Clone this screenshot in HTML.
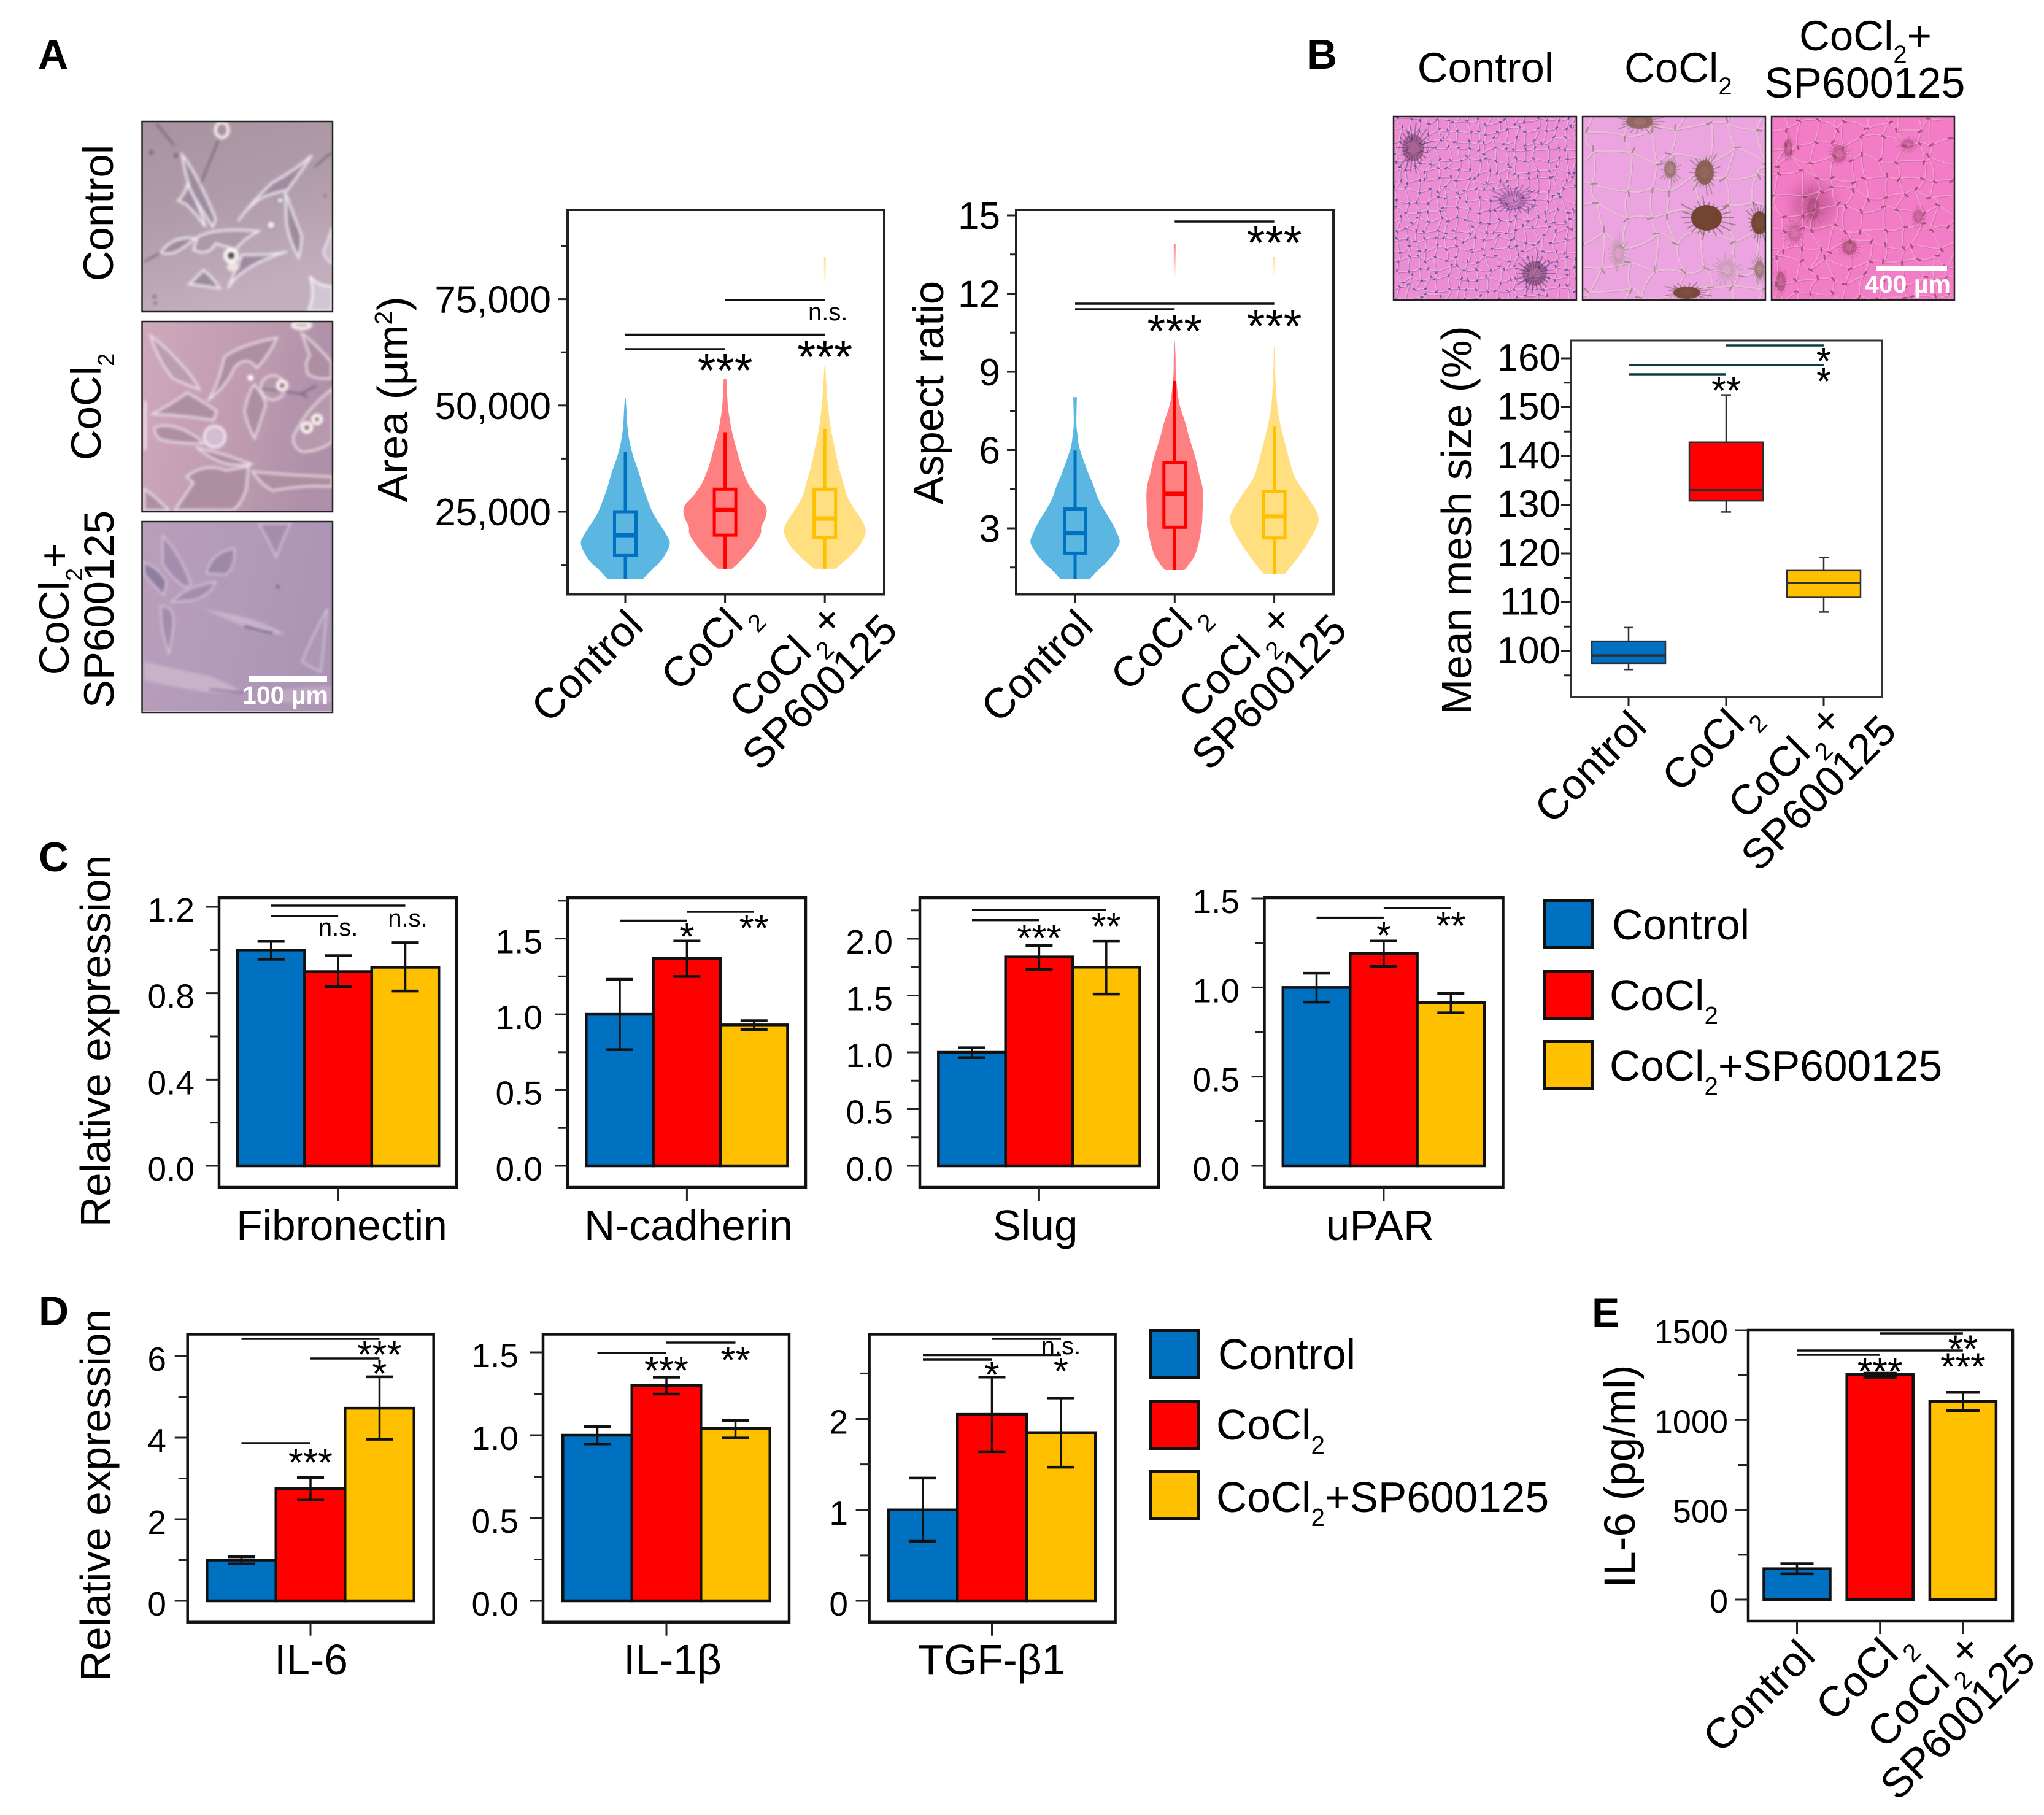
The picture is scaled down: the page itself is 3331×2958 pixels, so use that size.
<!DOCTYPE html>
<html lang="en">
<head>
<meta charset="utf-8">
<title>CoCl2 and SP600125 multi-panel figure</title>
<style>
html,body{margin:0;padding:0;background:#fff;}
svg{display:block;font-family:"Liberation Sans",Arial,sans-serif;}
</style>
</head>
<body>
<svg id="figure" xmlns="http://www.w3.org/2000/svg" width="3331" height="2958" viewBox="0 0 3331 2958">
<defs>
  <linearGradient id="photoA1" x1="0" y1="0" x2="0.3" y2="1"><stop offset="0" stop-color="#A8929F"/><stop offset="0.5" stop-color="#B09CA9"/><stop offset="1" stop-color="#C2AEBC"/></linearGradient>
  <linearGradient id="photoA2" x1="0" y1="0" x2="1" y2="0.2"><stop offset="0" stop-color="#CFA8BB"/><stop offset="0.6" stop-color="#BF9BB0"/><stop offset="1" stop-color="#AE90A8"/></linearGradient>
  <linearGradient id="photoA3" x1="0" y1="0" x2="1" y2="0.2"><stop offset="0" stop-color="#BA9FBC"/><stop offset="0.6" stop-color="#B199B8"/><stop offset="1" stop-color="#AB94B4"/></linearGradient>
  <linearGradient id="fadeRed" x1="0" y1="0" x2="0" y2="1"><stop offset="0" stop-color="#FF8080"/><stop offset="1" stop-color="#FF8080" stop-opacity="0"/></linearGradient>
  <linearGradient id="fadeYellow" x1="0" y1="0" x2="0" y2="1"><stop offset="0" stop-color="#FFDF80"/><stop offset="1" stop-color="#FFDF80" stop-opacity="0"/></linearGradient>
  <clipPath id="clipA1"><rect x="20" y="25" width="930" height="927"/></clipPath>
  <clipPath id="clipA2"><rect x="20" y="15" width="930" height="925"/></clipPath>
  <clipPath id="clipA3"><rect x="20" y="15" width="930" height="925"/></clipPath>
  <clipPath id="clipB1"><rect x="2271" y="190" width="298" height="299"/></clipPath>
  <clipPath id="clipB2"><rect x="2579" y="190" width="298" height="299"/></clipPath>
  <clipPath id="clipB3"><rect x="2887" y="190" width="298" height="299"/></clipPath>
  <filter id="cellBlur" x="-10%" y="-10%" width="120%" height="120%"><feGaussianBlur stdDeviation="7"/></filter>
  <filter id="softBig" x="-50%" y="-50%" width="200%" height="200%"><feGaussianBlur stdDeviation="12"/></filter>
</defs>

<!-- Panel letters -->
<text x="62" y="112" font-size="68" font-weight="bold">A</text>
<text x="2130" y="112" font-size="68" font-weight="bold">B</text>
<text x="63" y="1420" font-size="68" font-weight="bold">C</text>
<text x="63" y="2160" font-size="68" font-weight="bold">D</text>
<text x="2594" y="2163" font-size="68" font-weight="bold">E</text>

<!-- Panel A micrographs (local units are one third of a pixel) -->
<g transform="translate(225,190) scale(0.3333)">
  <g clip-path="url(#clipA1)">
    <rect x="20" y="25" width="930" height="927" fill="url(#photoA1)"/>
    <g filter="url(#cellBlur)">
      <g fill="#9E8B9E" stroke="#EFE9F1" stroke-width="10">
        <path d="M215,185 Q290,280 380,500 L365,540 Q320,470 260,370 Q225,270 215,185Z"/>
        <path d="M240,330 Q300,430 330,540 Q280,470 235,430 L195,410 Q230,380 240,330Z"/>
        <path d="M290,590 Q370,540 590,560 Q500,610 480,650 Q440,640 380,620 Q340,690 270,650 Q280,620 290,590Z" fill="#AC99A9"/>
        <path d="M110,665 Q170,580 280,595 Q230,640 180,665 Q140,675 110,665Z"/>
        <path d="M490,510 Q570,400 660,320 Q740,280 850,190 Q790,280 730,360 Q650,375 600,400 Q530,450 490,510Z"/>
        <path d="M720,370 Q760,480 800,580 Q800,640 785,690 Q740,610 725,520Z"/>
        <path d="M440,840 Q500,730 730,660 Q630,680 510,675 Q470,760 440,840Z"/>
        <path d="M250,820 Q310,760 320,750 Q370,790 400,840 Q330,830 250,820Z"/>
      </g>
      <path d="M840,780 Q880,830 950,830 L950,950 L830,950 Q870,880 840,780Z" fill="#D3C6D4" stroke="#F6F2F8" stroke-width="10"/>
      <path d="M905,660 Q930,600 950,540 L950,720 Q915,700 905,660Z" fill="#CBBBCB" stroke="#F1EBF3" stroke-width="8"/>
      <ellipse cx="410" cy="65" rx="32" ry="38" fill="#A8929F" stroke="#F6F1F2" stroke-width="14"/>
      <g fill="none" stroke="#5F5070" stroke-width="6">
        <path d="M90,35 L175,140"/><path d="M395,110 L305,330"/><path d="M865,245 L945,175"/><path d="M30,710 L110,665"/>
      </g>
      <g fill="#F2ECF2" stroke="#8A7A90" stroke-width="6"><circle cx="650" cy="530" r="20"/><circle cx="695" cy="410" r="15"/></g>
      <circle cx="455" cy="680" r="28" fill="#5A3F2E" stroke="#FFFFFF" stroke-width="18"/>
      <ellipse cx="465" cy="735" rx="30" ry="22" fill="#EFE5E0"/>
      <g fill="#6D5D80"><circle cx="65" cy="175" r="10"/><circle cx="185" cy="190" r="10"/><circle cx="80" cy="880" r="8"/><circle cx="85" cy="912" r="7"/><circle cx="915" cy="385" r="6"/></g>
    </g>
  </g>
</g>
<g transform="translate(225,520) scale(0.3333)">
  <g clip-path="url(#clipA2)">
    <rect x="20" y="15" width="930" height="925" fill="url(#photoA2)"/>
    <g filter="url(#cellBlur)">
      <g fill="#AE8FA2" stroke="#EEDFE8" stroke-width="9">
        <path d="M60,80 Q130,130 210,220 Q270,280 300,345 Q230,320 170,290 Q90,190 60,80Z" fill="#BC9DAE"/>
        <path d="M70,465 Q170,410 240,360 Q330,410 385,450 L370,495 Q220,470 70,465Z"/>
        <path d="M340,400 Q390,330 420,190 Q480,130 680,90 Q640,180 580,240 Q530,170 470,240 Q440,320 340,400Z"/>
        <path d="M520,450 Q540,350 570,320 Q620,380 625,420 Q600,500 570,585 Q530,510 520,450Z"/>
        <ellipse cx="660" cy="335" rx="60" ry="60" fill="#B898AC"/>
        <path d="M80,530 Q150,505 240,550 Q300,580 320,610 Q200,610 110,590 Q80,570 80,530Z"/>
        <path d="M290,630 Q400,650 560,710 Q480,720 420,705 Q350,680 290,630Z"/>
        <path d="M235,770 Q330,700 430,740 L540,720 L530,830 Q500,920 460,935 L180,935 Q230,860 270,800Z"/>
        <path d="M560,745 Q700,760 840,765 L950,770 L950,820 Q800,810 660,840 Q600,810 560,745Z"/>
        <path d="M760,570 Q820,440 950,340 L950,600 Q880,650 800,650 Q750,620 760,570Z" fill="#B898AC"/>
        <path d="M800,70 Q860,110 945,210 L945,290 Q880,300 830,270 Q810,210 840,180 Q820,130 800,70Z"/>
        <path d="M30,830 Q100,880 150,935 L30,935Z"/>
      </g>
      <path d="M35,400 L35,640" stroke="#F4E6EE" stroke-width="12"/>
      <path d="M600,340 L800,365 L830,385 M800,365 L870,325" stroke="#5E4B78" stroke-width="6" fill="none"/>
      <g fill="#A66E70" stroke="#FFFFFF" stroke-width="14">
        <circle cx="705" cy="325" r="22"/><circle cx="825" cy="530" r="22"/><circle cx="875" cy="490" r="20"/><circle cx="550" cy="287" r="8"/>
      </g>
      <ellipse cx="800" cy="30" rx="45" ry="18" fill="#D8B8C4" stroke="#FFF" stroke-width="12"/>
      <ellipse cx="375" cy="575" rx="52" ry="52" fill="#D6BCD0" stroke="#F8F2F6" stroke-width="10"/>
    </g>
  </g>
</g>
<g transform="translate(225,845) scale(0.3333)">
  <g clip-path="url(#clipA3)">
    <rect x="20" y="15" width="930" height="925" fill="url(#photoA3)"/>
    <g filter="url(#cellBlur)">
      <g fill="#A58CAE" stroke="#D9C8DC" stroke-width="7">
        <path d="M120,85 Q200,160 260,320 L235,340 Q150,280 120,220Z"/>
        <path d="M30,215 Q100,240 140,310 L125,375 Q60,310 30,270Z" fill="#8F7C9F"/>
        <path d="M165,410 Q230,330 380,310 Q350,380 270,400Z"/>
        <path d="M335,270 Q350,170 470,145 Q480,230 430,275 Q380,270 335,270Z" fill="#9C87A8"/>
        <path d="M110,430 Q175,420 175,510 Q165,600 150,660 Q110,550 110,430Z"/>
        <path d="M590,25 L745,25 Q700,120 675,190 Q640,110 590,25Z"/>
        <path d="M800,700 Q860,560 925,440 Q910,600 895,750 Q850,730 800,700Z" fill="#AE96B4"/>
      </g>
      <path d="M320,445 Q550,470 720,565 Q600,575 500,520Z" fill="#C8B2CC"/>
      <path d="M520,525 Q590,550 660,560" stroke="#5C4E88" stroke-width="10" fill="none"/>
      <path d="M30,700 Q200,740 350,770 Q450,810 510,850 L350,850 Q200,830 30,790Z" fill="#C8B2C9"/>
      <path d="M350,835 L510,850" stroke="#5C4E88" stroke-width="6" fill="none"/>
      <path d="M700,840 Q820,820 945,820 L945,900 Q820,900 700,900Z" fill="#BFA7C2"/>
      <circle cx="683" cy="333" r="9" fill="#6E6090"/>
    </g>
  </g>
</g>
<g fill="none" stroke="#222" stroke-width="2.5">
  <rect x="231.5" y="198" width="310.5" height="310"/>
  <rect x="231.5" y="524" width="310.5" height="310"/>
  <rect x="231.5" y="850" width="310.5" height="311"/>
</g>
<rect x="405" y="1102" width="128" height="10" fill="#fff"/>
<text x="465" y="1147" font-size="41" font-weight="bold" fill="#fff" text-anchor="middle">100 µm</text>

<text transform="translate(184,347) rotate(-90)" font-size="69" text-anchor="middle">Control</text>
<text transform="translate(164,663) rotate(-90)" font-size="69" text-anchor="middle">CoCl<tspan font-size="38" dy="22">2</tspan></text>
<text transform="translate(112,993) rotate(-90)" font-size="69" text-anchor="middle">CoCl<tspan font-size="38" dy="22">2</tspan><tspan dy="-22">+</tspan></text>
<text transform="translate(185,993) rotate(-90)" font-size="69" text-anchor="middle">SP600125</text>

<!-- Panel B titles and micrographs -->
<text x="2421" y="134" font-size="69" text-anchor="middle">Control</text>
<text x="2647" y="134" font-size="69">CoCl<tspan font-size="40" dy="20">2</tspan></text>
<text x="3040" y="82" font-size="69" text-anchor="middle">CoCl<tspan font-size="40" dy="20">2</tspan><tspan dy="-20">+</tspan></text>
<text x="3039" y="159" font-size="70" text-anchor="middle">SP600125</text>

<g clip-path="url(#clipB1)">
  <rect x="2271" y="190" width="298" height="299" fill="#EC8CD2"/>
  <g id="textureB1"></g>
</g>
<g clip-path="url(#clipB2)">
  <rect x="2579" y="190" width="298" height="299" fill="#ECA4E0"/>
  <g id="textureB2"></g>
</g>
<g clip-path="url(#clipB3)">
  <rect x="2887" y="190" width="298" height="299" fill="#F27CC6"/>
  <ellipse cx="2955" cy="333" rx="34" ry="34" fill="#B84C88" opacity="0.6" filter="url(#softBig)"/>
  <g id="textureB3"></g>
</g>
<g fill="none" stroke="#222" stroke-width="2.5">
  <rect x="2271" y="190" width="298" height="299"/><rect x="2579" y="190" width="298" height="299"/><rect x="2887" y="190" width="298" height="299"/>
</g>
<rect x="3058" y="433" width="115" height="9" fill="#fff"/>
<text x="3109" y="477" font-size="41" font-weight="bold" fill="#fff" text-anchor="middle">400 µm</text>

<!-- Axis titles -->
<text transform="translate(664,651) rotate(-90)" font-size="70" text-anchor="middle">Area (µm<tspan font-size="41" dy="-25">2</tspan><tspan dy="25">)</tspan></text>
<text transform="translate(1537,640) rotate(-90)" font-size="69" text-anchor="middle">Aspect ratio</text>
<text transform="translate(2398,848) rotate(-90)" font-size="69.5" text-anchor="middle">Mean mesh size (%)</text>
<text transform="translate(180,1697) rotate(-90)" font-size="69.5" text-anchor="middle">Relative expression</text>
<text transform="translate(180,2437) rotate(-90)" font-size="69.5" text-anchor="middle">Relative expression</text>
<text transform="translate(2664,2406) rotate(-90)" font-size="71" text-anchor="middle">IL-6 (pg/ml)</text>

<g id="charts"></g>
</svg>

<script>
// ---------- Shared categories ----------
const conditionKeys = ['control', 'cocl2', 'cocl2-sp600125'];
const legendLabels = ['Control', 'CoCl2', 'CoCl2+SP600125'];

// ---------- Panel A: cell area violins ----------
const areaTicks = [25000, 50000, 75000];
const areaTickLabels = ['25,000', '50,000', '75,000'];
const areaMinorTicks = [12500, 37500, 62500, 87500];
const areaControlLevels = [9200, 11400, 13800, 17300, 19700, 23300, 25700, 30500, 34100, 37700, 41300, 44900, 48400, 51700];
const areaControlDensity = [0.40, 0.60, 0.83, 1.00, 0.92, 0.70, 0.58, 0.41, 0.31, 0.19, 0.10, 0.05, 0.03, 0.01];
const areaControlBox = [9200, 14700, 19500, 25000, 39100];
const areaCoclLevels = [11600, 13800, 16700, 19700, 21500, 23900, 26300, 28700, 31700, 35300, 38900, 43700, 48400, 52000, 56200];
const areaCoclDensity = [0.16, 0.38, 0.62, 0.80, 0.82, 0.92, 0.92, 0.72, 0.52, 0.38, 0.28, 0.16, 0.08, 0.05, 0.03];
const areaCoclBox = [11600, 19500, 25400, 30300, 43700];
const areaComboLevels = [11600, 14400, 17300, 20300, 22700, 25700, 28700, 31700, 35300, 40100, 44900, 50800, 55600, 59200];
const areaComboDensity = [0.24, 0.55, 0.80, 0.92, 0.85, 0.66, 0.50, 0.42, 0.32, 0.22, 0.13, 0.06, 0.03, 0.01];
const areaComboBox = [11600, 18900, 23400, 30300, 44500];
const areaComboTail = [78300, 84900];

// ---------- Panel A: aspect ratio violins ----------
const aspectTicks = [3, 6, 9, 12, 15];
const aspectTickLabels = ['3', '6', '9', '12', '15'];
const aspectMinorTicks = [1.5, 4.5, 7.5, 10.5, 13.5];
const aspectControlLevels = [1.07, 1.40, 1.79, 2.42, 2.86, 3.16, 4.03, 4.71, 5.10, 6.08, 6.66, 7.05, 8.03];
const aspectControlDensity = [0.34, 0.52, 0.76, 1.00, 0.93, 0.85, 0.55, 0.40, 0.30, 0.10, 0.05, 0.03, 0.04];
const aspectControlBox = [1.07, 2.05, 2.82, 3.74, 5.98];
const aspectCoclLevels = [1.40, 1.99, 2.96, 3.74, 4.52, 5.10, 5.69, 6.47, 7.05, 7.83, 8.81, 9.58, 10.17];
const aspectCoclDensity = [0.22, 0.46, 0.60, 0.63, 0.63, 0.55, 0.47, 0.33, 0.24, 0.10, 0.03, 0.02, 0.005];
const aspectCoclBox = [1.40, 3.04, 4.32, 5.51, 8.65];
const aspectCoclTail = [12.6, 13.9];
const aspectComboLevels = [1.25, 1.99, 2.77, 3.39, 4.03, 4.71, 5.10, 6.08, 7.05, 7.83, 9.0, 9.97];
const aspectComboDensity = [0.24, 0.58, 0.87, 1.00, 0.82, 0.55, 0.43, 0.27, 0.13, 0.06, 0.02, 0.01];
const aspectComboBox = [1.25, 2.63, 3.45, 4.42, 6.9];
const aspectComboTail = [12.6, 13.4];

// ---------- Panel B: mean mesh size boxes ----------
const meshTicks = [100, 110, 120, 130, 140, 150, 160];
const meshTickLabels = ['100', '110', '120', '130', '140', '150', '160'];
const meshMinorTicks = [95, 105, 115, 125, 135, 145, 155];
const meshControlBox = [96.2, 97.5, 99.1, 102, 104.8];
const meshCoclBox = [128.5, 130.8, 133, 142.8, 152.5];
const meshComboBox = [108, 111, 114, 116.5, 119.2];

// ---------- Panel C: relative expression bars ----------
const fibronectinMeans = [1.0, 0.90, 0.92];
const fibronectinUpper = [1.04, 0.974, 1.034];
const fibronectinLower = [0.957, 0.83, 0.81];
const fibronectinTicks = [0, 0.4, 0.8, 1.2];
const fibronectinTickLabels = ['0.0', '0.4', '0.8', '1.2'];
const fibronectinMinorTicks = [0.2, 0.6, 1.0];

const ncadherinMeans = [1.0, 1.37, 0.93];
const ncadherinUpper = [1.231, 1.483, 0.958];
const ncadherinLower = [0.767, 1.25, 0.90];
const ncadherinTicks = [0, 0.5, 1.0, 1.5];
const ncadherinTickLabels = ['0.0', '0.5', '1.0', '1.5'];
const ncadherinMinorTicks = [0.25, 0.75, 1.25, 1.75];

const slugMeans = [1.0, 1.84, 1.75];
const slugUpper = [1.04, 1.942, 1.978];
const slugLower = [0.953, 1.73, 1.513];
const slugTicks = [0, 0.5, 1.0, 1.5, 2.0];
const slugTickLabels = ['0.0', '0.5', '1.0', '1.5', '2.0'];
const slugMinorTicks = [0.25, 0.75, 1.25, 1.75, 2.25];

const uparMeans = [1.0, 1.19, 0.915];
const uparUpper = [1.08, 1.26, 0.966];
const uparLower = [0.918, 1.118, 0.858];
const uparTicks = [0, 0.5, 1.0, 1.5];
const uparTickLabels = ['0.0', '0.5', '1.0', '1.5'];
const uparMinorTicks = [0.25, 0.75, 1.25];

// ---------- Panel D: relative expression bars ----------
const il6Means = [1.0, 2.75, 4.72];
const il6Upper = [1.08, 3.02, 5.49];
const il6Lower = [0.906, 2.47, 3.96];
const il6Ticks = [0, 2, 4, 6];
const il6TickLabels = ['0', '2', '4', '6'];
const il6MinorTicks = [1, 3, 5];

const il1bMeans = [1.0, 1.3, 1.04];
const il1bUpper = [1.053, 1.35, 1.088];
const il1bLower = [0.947, 1.248, 0.983];
const il1bTicks = [0, 0.5, 1.0, 1.5];
const il1bTickLabels = ['0.0', '0.5', '1.0', '1.5'];
const il1bMinorTicks = [0.25, 0.75, 1.25];

const tgfMeans = [1.0, 2.05, 1.85];
const tgfUpper = [1.35, 2.46, 2.23];
const tgfLower = [0.654, 1.64, 1.47];
const tgfTicks = [0, 1, 2];
const tgfTickLabels = ['0', '1', '2'];
const tgfMinorTicks = [0.5, 1.5, 2.5];

// ---------- Panel E: IL-6 ELISA bars ----------
const elisaMeans = [172, 1253, 1104];
const elisaUpper = [200, 1261, 1154];
const elisaLower = [144, 1238, 1053];
const elisaTicks = [0, 500, 1000, 1500];
const elisaTickLabels = ['0', '500', '1000', '1500'];
const elisaMinorTicks = [250, 750, 1250];

// ---------- Styles ----------
const solidColors = ['#0070C0', '#FF0000', '#FFC000'];
const softColors = ['#5BB7E1', '#FF8080', '#FFDF80'];
const fadeFills = ['', 'url(#fadeRed)', 'url(#fadeYellow)'];

const root = document.getElementById('charts');
const SVGNS = 'http://www.w3.org/2000/svg';

function make(parent, tag, attrs, content) {
  const node = document.createElementNS(SVGNS, tag);
  for (const key in attrs) node.setAttribute(key, attrs[key]);
  if (content !== undefined) node.textContent = content;
  parent.appendChild(node);
  return node;
}

// ---------- Decorative micrograph texture (not chart data) ----------
function hash(a, b) {
  const s = Math.sin(a * 12.9898 + b * 78.233) * 43758.5453;
  return s - Math.floor(s);
}

function meshTexture(id, x0, y0, w, h, step, seed, pale, paleW, line, lineW, speck, speckW) {
  const host = document.getElementById(id);
  const cols = Math.ceil(w / step) + 2, rows = Math.ceil(h / step) + 2;
  const pt = function (c, r) {
    return [x0 + (c - 0.5) * step + (hash(c + seed, r) - 0.5) * step * 0.8,
            y0 + (r - 0.5) * step + (hash(r + seed, c + 7) - 0.5) * step * 0.8];
  };
  let paleD = '', lineD = '', speckD = '';
  for (let c = 0; c < cols; c++) {
    for (let r = 0; r < rows; r++) {
      const p = pt(c, r);
      [[c + 1, r], [c, r + 1]].forEach(function (nb, k) {
        const q = pt(nb[0], nb[1]);
        const mx = (p[0] + q[0]) / 2 + (hash(c * 3 + k, r + seed) - 0.5) * step * 0.5;
        const my = (p[1] + q[1]) / 2 + (hash(r * 5 + k, c + seed) - 0.5) * step * 0.5;
        paleD += 'M' + p[0].toFixed(1) + ',' + p[1].toFixed(1) + 'Q' + mx.toFixed(1) + ',' + my.toFixed(1) + ' ' + q[0].toFixed(1) + ',' + q[1].toFixed(1);
        lineD += 'M' + (p[0] + 1.5).toFixed(1) + ',' + (p[1] + 1.5).toFixed(1) + 'Q' + (mx + 1.5).toFixed(1) + ',' + (my + 1.5).toFixed(1) + ' ' + (q[0] + 1.5).toFixed(1) + ',' + (q[1] + 1.5).toFixed(1);
      });
      const a = hash(c + 2, r + seed) * 6.28, l = step * 0.2;
      speckD += 'M' + p[0].toFixed(1) + ',' + p[1].toFixed(1) + 'l' + (Math.cos(a) * l).toFixed(1) + ',' + (Math.sin(a) * l).toFixed(1);
    }
  }
  make(host, 'path', { d: lineD, fill: 'none', stroke: line, 'stroke-width': lineW, 'stroke-opacity': 0.4 });
  make(host, 'path', { d: paleD, fill: 'none', stroke: pale, 'stroke-width': paleW, 'stroke-opacity': 0.6 });
  make(host, 'path', { d: speckD, fill: 'none', stroke: speck, 'stroke-width': speckW, 'stroke-linecap': 'round', 'stroke-opacity': 0.65 });
}

function burst(id, cx, cy, rx, ry, core, spine, coreOpacity, spineOpacity) {
  const host = document.getElementById(id);
  let d = '';
  for (let i = 0; i < 22; i++) {
    const a = i / 22 * 6.283, k = 1.1 + hash(i, cx) * 0.9;
    d += 'M' + (cx + Math.cos(a) * rx * 0.5).toFixed(1) + ',' + (cy + Math.sin(a) * ry * 0.5).toFixed(1) + 'L' + (cx + Math.cos(a) * rx * k).toFixed(1) + ',' + (cy + Math.sin(a) * ry * k).toFixed(1);
  }
  make(host, 'path', { d: d, fill: 'none', stroke: spine, 'stroke-width': 2, 'stroke-opacity': spineOpacity });
  make(host, 'ellipse', { cx: cx, cy: cy, rx: rx, ry: ry, fill: core, 'fill-opacity': coreOpacity });
}

meshTexture('textureB1', 2271, 190, 298, 299, 16, 3, '#F2C6DC', 1.6, '#7A4FA8', 1.4, '#3E2F88', 2.4);
meshTexture('textureB2', 2579, 190, 298, 299, 44, 9, '#EBD0D2', 2.5, '#A28098', 1.5, '#8C6E72', 2.5);
meshTexture('textureB3', 2887, 190, 298, 299, 28, 17, '#F6B4D4', 1.8, '#B2588E', 1.3, '#8A2F5A', 3);
burst('textureB1', 2303, 241, 18, 22, '#5A2F4A', '#5A4078', 0.45, 0.5);
burst('textureB1', 2501, 446, 20, 20, '#4F3048', '#4A3A78', 0.42, 0.5);
burst('textureB1', 2466, 327, 22, 16, '#6A4080', '#4A3A78', 0.25, 0.4);
burst('textureB2', 2781, 355, 25, 21, '#6E4028', '#6E5A60', 0.95, 0.6);
burst('textureB2', 2778, 281, 15, 20, '#7D5540', '#7E6A6E', 0.8, 0.55);
burst('textureB2', 2722, 276, 10, 14, '#8D6A58', '#8C7A7C', 0.65, 0.5);
burst('textureB2', 2867, 363, 13, 19, '#6E4028', '#6E5A60', 0.9, 0.55);
burst('textureB2', 2672, 198, 22, 12, '#7D5540', '#7E6A6E', 0.7, 0.5);
burst('textureB2', 2749, 477, 22, 10, '#6E4028', '#6E5A60', 0.85, 0.5);
burst('textureB2', 2814, 439, 14, 14, '#C0A0A4', '#A09094', 0.3, 0.4);
burst('textureB2', 2637, 413, 10, 18, '#B89498', '#A09094', 0.3, 0.4);
burst('textureB2', 2867, 439, 8, 14, '#8D6A58', '#7E6A6E', 0.55, 0.4);
burst('textureB3', 2955, 340, 10, 18, '#8A3A60', '#A64878', 0.3, 0.3);
burst('textureB3', 2997, 251, 12, 14, '#8A3A50', '#A64878', 0.3, 0.3);
burst('textureB3', 3109, 235, 10, 8, '#8A3A50', '#A64878', 0.28, 0.3);
burst('textureB3', 2914, 241, 7, 14, '#8A3A50', '#A64878', 0.35, 0.3);
burst('textureB3', 3014, 403, 12, 12, '#7A3040', '#A64878', 0.35, 0.3);
burst('textureB3', 3126, 353, 8, 10, '#8A3A50', '#A64878', 0.28, 0.3);
burst('textureB3', 2902, 459, 8, 16, '#7A3040', '#A64878', 0.35, 0.3);
burst('textureB3', 2925, 380, 12, 14, '#9A4A68', '#A64878', 0.25, 0.3);

// ---------- Chart helpers ----------
function axisY(layout) {
  const k = (layout.yHigh - layout.yLow) / (layout.vHigh - layout.vLow);
  return function (v) { return layout.yLow + (v - layout.vLow) * k; };
}

function categoryX(layout, i) {
  return layout.firstX + i * layout.stepX;
}

function drawFrameAndAxis(g, layout, y, ticks, labels, minor) {
  const frame = make(g, 'rect', { x: layout.left, y: layout.top, width: layout.right - layout.left, height: layout.bottom - layout.top, fill: 'none', stroke: layout.frameColor, 'stroke-width': layout.frameWidth });
  
  

  ticks.forEach(function (v, i) {
    const tick = make(g, 'line', { x1: layout.left - layout.majorLen, x2: layout.left, y1: y(v), y2: y(v), stroke: '#222', 'stroke-width': 3 });
    
    
    const label = make(g, 'text', { x: layout.labelRight, y: y(v) + layout.labelShift, 'font-size': layout.tickFont, 'text-anchor': 'end' }, labels[i]);
    
    
  });
  minor.forEach(function (v) {
    const tick = make(g, 'line', { x1: layout.left - layout.minorLen, x2: layout.left, y1: y(v), y2: y(v), stroke: '#222', 'stroke-width': 3 });
    
    
  });
}

function drawXTick(g, layout, x) {
  const tick = make(g, 'line', { x1: x, x2: x, y1: layout.bottom, y2: layout.bottom + layout.xTickLen, stroke: '#222', 'stroke-width': 3 });
  
  
}

function drawSignificance(g, layout) {
  layout.brackets.forEach(function (b) {
    const line = make(g, 'line', { x1: categoryX(layout, b.from), x2: categoryX(layout, b.to), y1: b.y, y2: b.y, stroke: layout.bracketColor || '#111', 'stroke-width': 3.5 });
    
    
  });
  layout.marks.forEach(function (m) {
    const small = m.text === 'n.s.';
    const size = small ? 40 : layout.starFont;
    const base = small ? m.y + 0.3 * size : m.y + 0.48 * size;
    const mark = make(g, 'text', { x: categoryX(layout, m.at) + (m.dx || 0), y: base, 'font-size': size, 'text-anchor': 'middle' }, m.text);
    
    
  });
}

function appendChem(node, main, sub, tail, size, gap) {
  node.appendChild(document.createTextNode(main));
  const lower = 0.33 * size;
  make(node, 'tspan', { 'font-size': 0.58 * size, dy: lower, dx: gap }, sub);
  if (tail) make(node, 'tspan', { dy: -lower, dx: gap }, tail);
}

function drawDiagonalLabels(g, layout) {
  const s = layout.diagFont;
  const x0 = categoryX(layout, 0), x1 = categoryX(layout, 1), x2 = categoryX(layout, 2);
  const b = layout.bottom + layout.diagShift;

  const a = make(g, 'text', { transform: 'translate(' + (x0 + 33) + ',' + (b + 55) + ') rotate(-45)', 'font-size': s, 'text-anchor': 'end' }, legendLabels[0]);
  
  

  const c = make(g, 'text', { transform: 'translate(' + (x1 + 53) + ',' + (b + 32) + ') rotate(-45)', 'font-size': s, 'text-anchor': 'end' });
  appendChem(c, 'CoCl', '2', '', s, 6);
  
  

  const d = make(g, 'text', { transform: 'translate(' + (x2 + 34) + ',' + (b + 44) + ') rotate(-45)', 'font-size': s, 'text-anchor': 'end' });
  appendChem(d, 'CoCl', '2', '+', s, 6);
  
  

  const e = make(g, 'text', { transform: 'translate(' + (x2 + 122) + ',' + (b + 62) + ') rotate(-45)', 'font-size': s, 'text-anchor': 'end' }, 'SP600125');
  
  
}

function smoothPath(points) {
  let d = 'M' + points[0][0] + ',' + points[0][1];
  for (let i = 0; i < points.length - 1; i++) {
    const p0 = points[Math.max(i - 1, 0)], p1 = points[i], p2 = points[i + 1], p3 = points[Math.min(i + 2, points.length - 1)];
    const c1x = p1[0] + (p2[0] - p0[0]) / 6, c1y = p1[1] + (p2[1] - p0[1]) / 6;
    const c2x = p2[0] - (p3[0] - p1[0]) / 6, c2y = p2[1] - (p3[1] - p1[1]) / 6;
    d += ' C' + c1x + ',' + c1y + ' ' + c2x + ',' + c2y + ' ' + p2[0] + ',' + p2[1];
  }
  return d;
}

function drawViolin(g, layout, y, i, levels, density, stats, tail) {
  const cx = categoryX(layout, i);
  const right = levels.map(function (v, j) { return [cx + density[j] * layout.violinScale, y(v)]; });
  const left = levels.map(function (v, j) { return [cx - density[j] * layout.violinScale, y(v)]; }).reverse();
  const d = smoothPath(right) + ' L' + left[0][0] + ',' + left[0][1] + smoothPath(left).replace(/^M[^ ]+/, '') + ' Z';
  const shape = make(g, 'path', { d: d, fill: softColors[i] });
  
  

  if (tail) {
    const spike = make(g, 'rect', { x: cx - 1.5, y: y(tail[1]), width: 3, height: y(tail[0]) - y(tail[1]), fill: fadeFills[i] });
    
    
  }

  const color = solidColors[i];
  const whisker = make(g, 'line', { x1: cx, x2: cx, y1: y(stats[0]), y2: y(stats[4]), stroke: color, 'stroke-width': 5 });
  
  
  const box = make(g, 'rect', { x: cx - layout.boxHalf, y: y(stats[3]), width: 2 * layout.boxHalf, height: y(stats[1]) - y(stats[3]), fill: softColors[i], stroke: color, 'stroke-width': 5 });
  
  
  const median = make(g, 'line', { x1: cx - layout.boxHalf, x2: cx + layout.boxHalf, y1: y(stats[2]), y2: y(stats[2]), stroke: color, 'stroke-width': 7 });
  
  
}

function drawBoxPlot(g, layout, y, i, stats) {
  const cx = categoryX(layout, i);
  const ink = '#2B2F36';
  const whisker = make(g, 'line', { x1: cx, x2: cx, y1: y(stats[0]), y2: y(stats[4]), stroke: ink, 'stroke-width': 2.5 });
  
  
  [stats[0], stats[4]].forEach(function (v) {
    const cap = make(g, 'line', { x1: cx - layout.capHalf, x2: cx + layout.capHalf, y1: y(v), y2: y(v), stroke: ink, 'stroke-width': 2.5 });
    
    
  });
  const box = make(g, 'rect', { x: cx - layout.boxHalf, y: y(stats[3]), width: 2 * layout.boxHalf, height: y(stats[1]) - y(stats[3]), fill: solidColors[i], stroke: ink, 'stroke-width': 2.5 });
  
  
  const median = make(g, 'line', { x1: cx - layout.boxHalf, x2: cx + layout.boxHalf, y1: y(stats[2]), y2: y(stats[2]), stroke: ink, 'stroke-width': 3.5 });
  
  
}

function drawBars(g, layout, y, means, upper, lower) {
  means.forEach(function (v, i) {
    const cx = categoryX(layout, i);
    const bar = make(g, 'rect', { x: cx - layout.barWidth / 2, y: y(v), width: layout.barWidth, height: y(0) - y(v), fill: solidColors[i], stroke: '#111', 'stroke-width': 4.5 });
    
    
  });
  means.forEach(function (v, i) {
    const cx = categoryX(layout, i);
    const stem = make(g, 'line', { x1: cx, x2: cx, y1: y(upper[i]), y2: y(lower[i]), stroke: '#111', 'stroke-width': 3.5 });
    
    
    [upper[i], lower[i]].forEach(function (e) {
      const cap = make(g, 'line', { x1: cx - layout.capHalf, x2: cx + layout.capHalf, y1: y(e), y2: y(e), stroke: '#111', 'stroke-width': 4.5 });
      
      
    });
  });
}

function drawViolinPanel(layout, ticks, labels, minor, series) {
  const g = make(root, 'g', {});
  
  
  const y = axisY(layout);
  series.forEach(function (s, i) { drawViolin(g, layout, y, i, s[0], s[1], s[2], s[3]); });
  drawFrameAndAxis(g, layout, y, ticks, labels, minor);
  [0, 1, 2].forEach(function (i) { drawXTick(g, layout, categoryX(layout, i)); });
  drawSignificance(g, layout);
  drawDiagonalLabels(g, layout);
}

function drawBarPanel(layout, ticks, labels, minor, means, upper, lower) {
  const g = make(root, 'g', {});
  
  
  const y = axisY(layout);
  drawFrameAndAxis(g, layout, y, ticks, labels, minor);
  drawBars(g, layout, y, means, upper, lower);
  drawSignificance(g, layout);
  if (layout.title) {
    drawXTick(g, layout, categoryX(layout, 1));
    const t = make(g, 'text', { x: layout.titleX, y: layout.titleY, 'font-size': 69.5, 'text-anchor': 'middle' }, layout.title);
    
    
  } else {
    [0, 1, 2].forEach(function (i) { drawXTick(g, layout, categoryX(layout, i)); });
    drawDiagonalLabels(g, layout);
  }
}

function drawLegend(key, swatchX, swatchW, swatchTops, swatchH, textXs, baselines) {
  const g = make(root, 'g', {});
  
  
  legendLabels.forEach(function (label, i) {
    const swatch = make(g, 'rect', { x: swatchX, y: swatchTops[i], width: swatchW, height: swatchH, fill: solidColors[i], stroke: '#111', 'stroke-width': 5 });
    
    
    const text = make(g, 'text', { x: textXs[i], y: baselines[i], 'font-size': 69.5 });
    if (i === 0) text.textContent = label;
    if (i === 1) appendChem(text, 'CoCl', '2', '', 69.5, 0);
    if (i === 2) appendChem(text, 'CoCl', '2', '+SP600125', 69.5, 0);
    
    
  });
}

const stars3 = '***', stars2 = '**', star1 = '*';

// Panel A
drawViolinPanel(
  { key: 'area', left: 925, right: 1441, top: 342, bottom: 968.5, firstX: 1019, stepX: 162.6, vLow: 25000, yLow: 834, vHigh: 75000, yHigh: 487.6,
    frameColor: '#222', frameWidth: 4, majorLen: 15, minorLen: 10, xTickLen: 14, labelRight: 898, labelShift: 22, tickFont: 62, violinScale: 72.3, boxHalf: 17.5, starFont: 77, diagFont: 69, diagShift: 0,
    brackets: [{ from: 0, to: 2, y: 545.5 }, { from: 0, to: 1, y: 569 }, { from: 1, to: 2, y: 489 }],
    marks: [{ at: 1, y: 593, text: stars3 }, { at: 2, y: 571, text: stars3 }, { at: 2, y: 510, text: 'n.s.', dx: 5 }] },
  areaTicks, areaTickLabels, areaMinorTicks,
  [[areaControlLevels, areaControlDensity, areaControlBox, null],
   [areaCoclLevels, areaCoclDensity, areaCoclBox, null],
   [areaComboLevels, areaComboDensity, areaComboBox, areaComboTail]]
);
drawViolinPanel(
  { key: 'aspect-ratio', left: 1656, right: 2173, top: 342, bottom: 968.5, firstX: 1752, stepX: 162.3, vLow: 3, yLow: 861, vHigh: 15, yHigh: 351,
    frameColor: '#222', frameWidth: 4, majorLen: 15, minorLen: 10, xTickLen: 14, labelRight: 1630, labelShift: 22, tickFont: 62, violinScale: 72.3, boxHalf: 17.5, starFont: 77, diagFont: 69, diagShift: 0,
    brackets: [{ from: 0, to: 2, y: 495 }, { from: 0, to: 1, y: 504 }, { from: 1, to: 2, y: 361 }],
    marks: [{ at: 2, y: 385, text: stars3 }, { at: 2, y: 521, text: stars3 }, { at: 1, y: 529, text: stars3 }] },
  aspectTicks, aspectTickLabels, aspectMinorTicks,
  [[aspectControlLevels, aspectControlDensity, aspectControlBox, null],
   [aspectCoclLevels, aspectCoclDensity, aspectCoclBox, aspectCoclTail],
   [aspectComboLevels, aspectComboDensity, aspectComboBox, aspectComboTail]]
);

// Panel B box plot
(function () {
  const layout = { key: 'mesh-size', left: 2560, right: 3067, top: 555, bottom: 1136, firstX: 2654, stepX: 159, vLow: 100, yLow: 1061, vHigh: 160, yHigh: 584,
    frameColor: '#333', frameWidth: 3, majorLen: 16, minorLen: 11, xTickLen: 14, labelRight: 2543, labelShift: 20, tickFont: 62, boxHalf: 60, capHalf: 8, starFont: 62, diagFont: 69, diagShift: -3, bracketColor: '#0E3B47',
    brackets: [{ from: 1, to: 2, y: 563 }, { from: 0, to: 2, y: 595 }, { from: 0, to: 1, y: 610 }],
    marks: [{ at: 1, y: 628, text: stars2 }, { at: 2, y: 580, text: star1 }, { at: 2, y: 613, text: star1 }] };
  const g = make(root, 'g', {});
  
  
  const y = axisY(layout);
  drawFrameAndAxis(g, layout, y, meshTicks, meshTickLabels, meshMinorTicks);
  drawBoxPlot(g, layout, y, 0, meshControlBox);
  drawBoxPlot(g, layout, y, 1, meshCoclBox);
  drawBoxPlot(g, layout, y, 2, meshComboBox);
  [0, 1, 2].forEach(function (i) { drawXTick(g, layout, categoryX(layout, i)); });
  drawSignificance(g, layout);
  drawDiagonalLabels(g, layout);
})();

// Panel C
const cCommon = { top: 1463, bottom: 1935, vLow: 0, yLow: 1900, frameColor: '#111', frameWidth: 4.5, majorLen: 21, minorLen: 15, xTickLen: 22, labelShift: 24, tickFont: 55, barWidth: 109.4, stepX: 109.4, capHalf: 22, starFont: 62, titleY: 2021 };
drawBarPanel(Object.assign({}, cCommon, { key: 'fibronectin', left: 357, right: 744, firstX: 441.7, vHigh: 1.2, yHigh: 1478, labelRight: 317, title: 'Fibronectin', titleX: 557,
  brackets: [{ from: 0, to: 2, y: 1476 }, { from: 0, to: 1, y: 1493 }],
  marks: [{ at: 1, y: 1513, text: 'n.s.' }, { at: 2, y: 1498, text: 'n.s.', dx: 4 }] }),
  fibronectinTicks, fibronectinTickLabels, fibronectinMinorTicks, fibronectinMeans, fibronectinUpper, fibronectinLower);
drawBarPanel(Object.assign({}, cCommon, { key: 'n-cadherin', left: 925, right: 1313, firstX: 1010, vHigh: 1.5, yHigh: 1529.6, labelRight: 884, title: 'N-cadherin', titleX: 1122,
  brackets: [{ from: 0, to: 1, y: 1500.5 }, { from: 1, to: 2, y: 1486 }],
  marks: [{ at: 1, y: 1518, text: star1 }, { at: 2, y: 1504, text: stars2 }] }),
  ncadherinTicks, ncadherinTickLabels, ncadherinMinorTicks, ncadherinMeans, ncadherinUpper, ncadherinLower);
drawBarPanel(Object.assign({}, cCommon, { key: 'slug', left: 1499, right: 1888, firstX: 1584, vHigh: 2.0, yHigh: 1530, labelRight: 1455, title: 'Slug', titleX: 1687,
  brackets: [{ from: 0, to: 2, y: 1482.7 }, { from: 0, to: 1, y: 1499.6 }],
  marks: [{ at: 1, y: 1520, text: stars3 }, { at: 2, y: 1501, text: stars2 }] }),
  slugTicks, slugTickLabels, slugMinorTicks, slugMeans, slugUpper, slugLower);
drawBarPanel(Object.assign({}, cCommon, { key: 'upar', left: 2060.5, right: 2449.5, firstX: 2145.5, vHigh: 1.5, yHigh: 1464, labelRight: 2020, title: 'uPAR', titleX: 2249,
  brackets: [{ from: 0, to: 1, y: 1495.6 }, { from: 1, to: 2, y: 1480 }],
  marks: [{ at: 1, y: 1516, text: star1 }, { at: 2, y: 1500, text: stars2 }] }),
  uparTicks, uparTickLabels, uparMinorTicks, uparMeans, uparUpper, uparLower);
drawLegend('legend-panel-c', 2516.5, 79, [1467.5, 1583.5, 1697.5], 77, [2627, 2623, 2623], [1531, 1646, 1761]);

// Panel D
const dCommon = { top: 2174.5, bottom: 2643.7, vLow: 0, yLow: 2609, frameColor: '#111', frameWidth: 4.5, majorLen: 21, minorLen: 15, xTickLen: 22, labelShift: 24, tickFont: 55, barWidth: 112.5, stepX: 112.5, capHalf: 22, starFont: 62, titleY: 2729 };
drawBarPanel(Object.assign({}, dCommon, { key: 'il-6', left: 305.7, right: 706.7, firstX: 393.5, vHigh: 6, yHigh: 2210, labelRight: 271, title: 'IL-6', titleX: 507,
  brackets: [{ from: 0, to: 2, y: 2182 }, { from: 1, to: 2, y: 2214 }, { from: 0, to: 1, y: 2352 }],
  marks: [{ at: 2, y: 2199, text: stars3 }, { at: 2, y: 2230, text: star1 }, { at: 1, y: 2375, text: stars3 }] }),
  il6Ticks, il6TickLabels, il6MinorTicks, il6Means, il6Upper, il6Lower);
drawBarPanel(Object.assign({}, dCommon, { key: 'il-1b', left: 885, right: 1286, firstX: 973.5, vHigh: 1.5, yHigh: 2204, labelRight: 845, title: 'IL-1β', titleX: 1096,
  brackets: [{ from: 0, to: 1, y: 2205 }, { from: 1, to: 2, y: 2188 }],
  marks: [{ at: 1, y: 2225, text: stars3 }, { at: 2, y: 2208, text: stars2 }] }),
  il1bTicks, il1bTickLabels, il1bMinorTicks, il1bMeans, il1bUpper, il1bLower);
drawBarPanel(Object.assign({}, dCommon, { key: 'tgf-b1', left: 1416.6, right: 1817.6, firstX: 1504, vHigh: 2, yHigh: 2312.5, labelRight: 1382, majorLen: 22, title: 'TGF-β1', titleX: 1616,
  brackets: [{ from: 1, to: 2, y: 2182 }, { from: 0, to: 2, y: 2208.5 }, { from: 0, to: 1, y: 2216 }],
  marks: [{ at: 2, y: 2195, text: 'n.s.' }, { at: 1, y: 2232, text: star1 }, { at: 2, y: 2226, text: star1 }] }),
  tgfTicks, tgfTickLabels, tgfMinorTicks, tgfMeans, tgfUpper, tgfLower);
drawLegend('legend-panel-d', 1875.5, 78, [2168.5, 2283.5, 2398.5], 77, [1985, 1982, 1982], [2231, 2346, 2464]);

// Panel E
drawBarPanel({ key: 'il-6-elisa', left: 2849, right: 3280, top: 2168, bottom: 2642, firstX: 2928.5, stepX: 135.2, barWidth: 108, vLow: 0, yLow: 2607, vHigh: 1500, yHigh: 2168,
  frameColor: '#111', frameWidth: 4.5, majorLen: 22, minorLen: 17, xTickLen: 21, labelRight: 2816, labelShift: 21, tickFont: 54, capHalf: 27, starFont: 63, diagFont: 69, diagShift: 5,
  brackets: [{ from: 1, to: 2, y: 2173 }, { from: 0, to: 2, y: 2201 }, { from: 0, to: 1, y: 2208 }],
  marks: [{ at: 2, y: 2190, text: stars2 }, { at: 2, y: 2219, text: stars3 }, { at: 1, y: 2227, text: stars3 }] },
  elisaTicks, elisaTickLabels, elisaMinorTicks, elisaMeans, elisaUpper, elisaLower);
</script>
</body>
</html>
